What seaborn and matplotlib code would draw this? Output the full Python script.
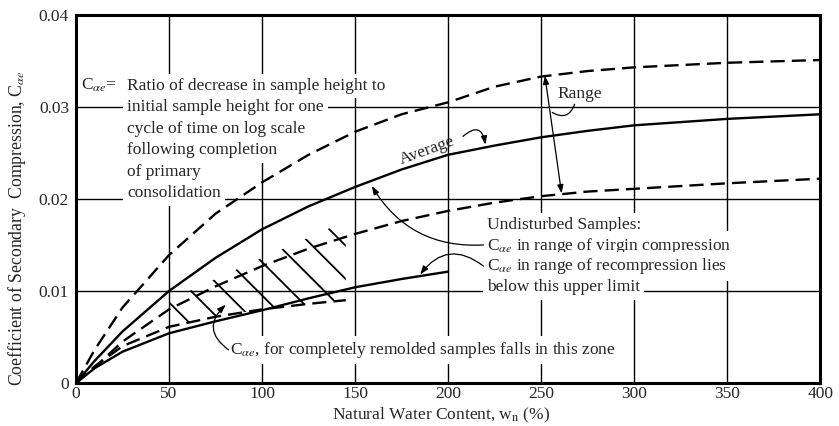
import matplotlib
matplotlib.use("Agg")
import matplotlib.pyplot as plt
import seaborn as sns

# ----------------------------
# 1. Values (w_n in %, C_alpha_e)
# ----------------------------
x_main = [0, 10, 25, 50, 75, 100, 125, 150, 175, 200, 225, 250, 275, 300, 350, 400]
upper_range = [0, 0.0036, 0.0082, 0.0139, 0.0184, 0.0218, 0.0248, 0.0273, 0.0292, 0.0305,
               0.0322, 0.0333, 0.0339, 0.0343, 0.0348, 0.0351]
average = [0, 0.0024, 0.0056, 0.0100, 0.0136, 0.0167, 0.0192, 0.0213, 0.0232, 0.0248,
           0.0258, 0.0267, 0.0274, 0.0280, 0.0287, 0.0292]
lower_range = [0, 0.0017, 0.0045, 0.0080, 0.0105, 0.0127, 0.0146, 0.0162, 0.0176, 0.0187,
               0.0196, 0.0203, 0.0208, 0.0211, 0.0217, 0.0222]

x_recomp = [0, 10, 25, 50, 75, 100, 125, 150, 175, 200]
recomp_limit = [0, 0.0016, 0.0034, 0.0054, 0.0067, 0.0079, 0.0092, 0.0104, 0.0113, 0.0121]

x_remold = [0, 10, 25, 50, 75, 100, 125, 145]
remold_low = [0, 0.0018, 0.0040, 0.0061, 0.0072, 0.0080, 0.0086, 0.0090]

# hatched zone (completely remolded samples)
x_zone = [50, 75, 100, 125, 145]
zone_low = [0.0061, 0.0072, 0.0080, 0.0086, 0.0090]
zone_high = [0.0090, 0.0113, 0.0136, 0.0158, 0.0176]

x_ticks = [0, 50, 100, 150, 200, 250, 300, 350, 400]
x_labels = ["0", "50", "100", "150", "200", "250", "300", "350", "400"]
y_ticks = [0, 0.01, 0.02, 0.03, 0.04]
y_labels = ["0", "0.01", "0.02", "0.03", "0.04"]

CAE = r"C$_{\alpha e}$"
def_lines = ["Ratio of decrease in sample height to",
             "initial sample height for one",
             "cycle of time on log scale",
             "following completion",
             "of primary",
             "consolidation"]
undisturbed_lines = ["Undisturbed Samples:",
                     CAE + " in range of virgin compression",
                     CAE + " in range of recompression lies",
                     "below this upper limit"]
remold_text = CAE + ", for completely remolded samples falls in this zone"

# ----------------------------
# 2. Style
# ----------------------------
sns.set_style("white")
plt.rcParams["font.family"] = ["Liberation Serif", "DejaVu Serif"]
plt.rcParams["mathtext.fontset"] = "stix"
plt.rcParams["hatch.linewidth"] = 1.3

fig = plt.figure(figsize=(8.39, 4.26), dpi=100)
ax = fig.add_axes([0.0906, 0.101, 0.887, 0.864])

dash = (0, (6, 3))
sns.lineplot(x=x_main, y=upper_range, ax=ax, color="black", lw=1.7, linestyle=dash, zorder=3)
sns.lineplot(x=x_main, y=average, ax=ax, color="black", lw=1.7, zorder=3)
sns.lineplot(x=x_main, y=lower_range, ax=ax, color="black", lw=1.7, linestyle=dash, zorder=3)
sns.lineplot(x=x_recomp, y=recomp_limit, ax=ax, color="black", lw=1.7, zorder=3)
sns.lineplot(x=x_remold, y=remold_low, ax=ax, color="black", lw=1.7, linestyle=dash, zorder=3)
ax.fill_between(x_zone, zone_low, zone_high, facecolor="none", edgecolor="black",
                hatch="\\", linewidth=0, zorder=3)

# axes, ticks, grid
ax.set_xlim(0, 400)
ax.set_ylim(0, 0.04)
ax.set_xticks(x_ticks)
ax.set_xticklabels(x_labels, fontsize=12.5)
ax.set_yticks(y_ticks)
ax.set_yticklabels(y_labels, fontsize=12.5)
ax.tick_params(axis="y", length=0, pad=5)
ax.tick_params(axis="x", length=0, pad=2.5)
ax.grid(True, color="black", lw=1.0)
ax.set_axisbelow(True)
for s in ax.spines.values():
    s.set_linewidth(2.2)
    s.set_color("black")

ax.set_xlabel(r"Natural Water Content, w$_\mathrm{n}$ (%)", fontsize=12.5)
ax.xaxis.set_label_coords(0.49, -0.062)
ax.set_ylabel("Coefficient of Secondary  Compression, " + CAE, fontsize=12.8)
ax.yaxis.set_label_coords(-0.064, 0.42)

# ----------------------------
# 3. Annotations
# ----------------------------
FS = 12.5
white = dict(facecolor="white", edgecolor="none", pad=3)
ax.text(2.8, 0.0323, CAE + "=", fontsize=FS, va="center", ha="left", bbox=white, zorder=2.5)
for i, line in enumerate(def_lines):
    ax.text(27.5, 0.0323 - i * 0.00234, line, fontsize=FS, va="center", ha="left",
            bbox=white, zorder=2.5)

for i, line in enumerate(undisturbed_lines):
    ax.text(221, 0.0172 - i * 0.00227, line, fontsize=FS, va="center", ha="left",
            bbox=white, zorder=2.5)

ax.text(82.5, 0.0036, remold_text, fontsize=FS, va="center", ha="left", bbox=white, zorder=2.5)

ax.text(189, 0.0252, "Average", fontsize=FS, va="center", ha="center", rotation=20)
ax.text(270.5, 0.0314, "Range", fontsize=FS, va="center", ha="center")

arr = dict(arrowstyle="-|>,head_length=0.5,head_width=0.18", color="black", lw=0.9,
           shrinkA=0, shrinkB=0)
# range double arrow
ax.annotate("", xy=(252, 0.0334), xytext=(261, 0.0206),
            arrowprops=dict(arrowstyle="<|-|>,head_length=0.5,head_width=0.18",
                            color="black", lw=0.9, shrinkA=0, shrinkB=0))
ax.annotate("", xy=(256, 0.0294), xytext=(268, 0.0303),
            arrowprops=dict(arrowstyle="-", color="black", lw=0.9,
                            connectionstyle="arc3,rad=-0.6", shrinkA=0, shrinkB=0))
# average pointer
ax.annotate("", xy=(220, 0.0259), xytext=(208, 0.0268),
            arrowprops=dict(arr, connectionstyle="arc3,rad=-0.9"))
# virgin compression pointer
ax.annotate("", xy=(159, 0.0214), xytext=(219, 0.0150),
            arrowprops=dict(arr, connectionstyle="arc3,rad=-0.3"))
# recompression pointer
ax.annotate("", xy=(185, 0.0118), xytext=(219, 0.0127),
            arrowprops=dict(arr, connectionstyle="arc3,rad=0.5"))
# remolded zone pointer
ax.annotate("", xy=(80.5, 0.0085), xytext=(82, 0.0036),
            arrowprops=dict(arr, connectionstyle="arc3,rad=-0.6"))

plt.savefig("out.png", dpi=100)
